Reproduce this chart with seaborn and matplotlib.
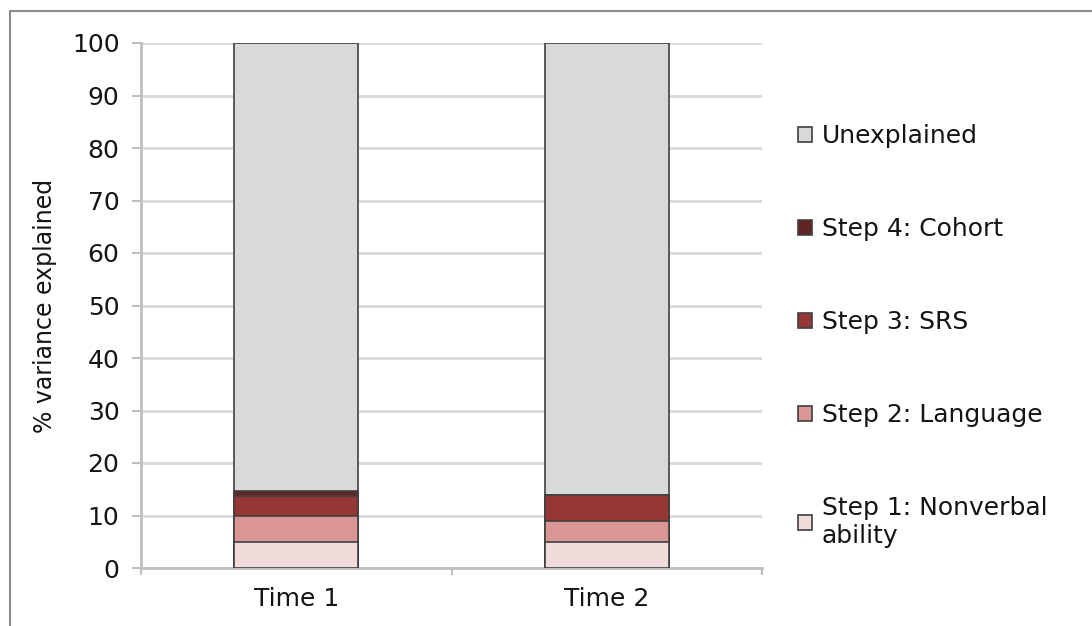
import matplotlib
matplotlib.use("Agg")
import matplotlib.pyplot as plt
from matplotlib.lines import Line2D
import seaborn as sns
import pandas as pd

# valores (% de varianza)
times = ["Time 1", "Time 2"]
step1 = [5.0, 5.0]
step2 = [4.9, 4.0]
step3 = [3.9, 5.0]
step4 = [0.9, 0.0]

labels = ["Unexplained", "Step 4: Cohort", "Step 3: SRS", "Step 2: Language",
          "Step 1: Nonverbal\nability"]
colors = ["#d9d9d9", "#632523", "#953735", "#d99694", "#f2dcdb"]

df = pd.DataFrame({"time": times, "s1": step1, "s2": step2, "s3": step3, "s4": step4})
df["c1"] = df["s1"]
df["c2"] = df["c1"] + df["s2"]
df["c3"] = df["c2"] + df["s3"]
df["c4"] = df["c3"] + df["s4"]
df["c5"] = 100.0  # unexplained llena hasta 100

sns.set_style("white")
plt.rcParams["font.family"] = ["DejaVu Sans"]
plt.rcParams["text.color"] = "#141414"
plt.rcParams["axes.labelcolor"] = "#141414"
plt.rcParams["xtick.labelcolor"] = "#141414"
plt.rcParams["ytick.labelcolor"] = "#141414"

fig = plt.figure(figsize=(10.92, 6.26), dpi=100)
ax = fig.add_axes([141 / 1092, 58 / 626, 621 / 1092, 525 / 626])

# barras apiladas: de la mas alta a la mas baja
for col, lab, colr in zip(["c5", "c4", "c3", "c2", "c1"], labels, colors):
    sns.barplot(data=df, x="time", y=col, color=colr, width=0.4, label=lab,
                edgecolor="#404040", linewidth=1.2, saturation=1, ax=ax, zorder=3)

ax.set_xlim(-0.5, 1.5)
ax.set_ylim(0, 100)
ax.set_yticks(range(0, 101, 10))
ax.set_xlabel("")
ax.set_ylabel("% variance explained", fontsize=17, labelpad=11)

ax.yaxis.grid(True, color="#d9d9d9", linewidth=2, zorder=0)
ax.set_axisbelow(True)
for s in ["top", "right"]:
    ax.spines[s].set_visible(False)
for s in ["left", "bottom"]:
    ax.spines[s].set_color("#bfbfbf")
    ax.spines[s].set_linewidth(2)

ax.tick_params(axis="y", which="major", direction="out", length=6.5, width=1.5,
               color="#bfbfbf", labelsize=18, pad=9, left=True)
ax.set_xticks([-0.5, 0.5, 1.5], minor=True)
ax.tick_params(axis="x", which="minor", direction="out", length=5, width=1.5,
               color="#bfbfbf", bottom=True)
ax.tick_params(axis="x", which="major", length=0, labelsize=18, pad=14)

ax.legend(loc="upper left", bbox_to_anchor=(798 / 1092, 1 - 124 / 626),
          bbox_transform=fig.transFigure, frameon=False, fontsize=18,
          labelspacing=2.76, handlelength=0.55, handleheight=0.55,
          handletextpad=0.4, borderaxespad=0, borderpad=0)

# marco recortado de la captura original
fig.add_artist(Line2D([10 / 1092, 1], [1 - 11 / 626, 1 - 11 / 626],
                      color="#8c8c8c", linewidth=1.5))
fig.add_artist(Line2D([10 / 1092, 10 / 1092], [0, 1 - 11 / 626],
                      color="#8c8c8c", linewidth=1.5))

fig.savefig("out.png", dpi=100)
